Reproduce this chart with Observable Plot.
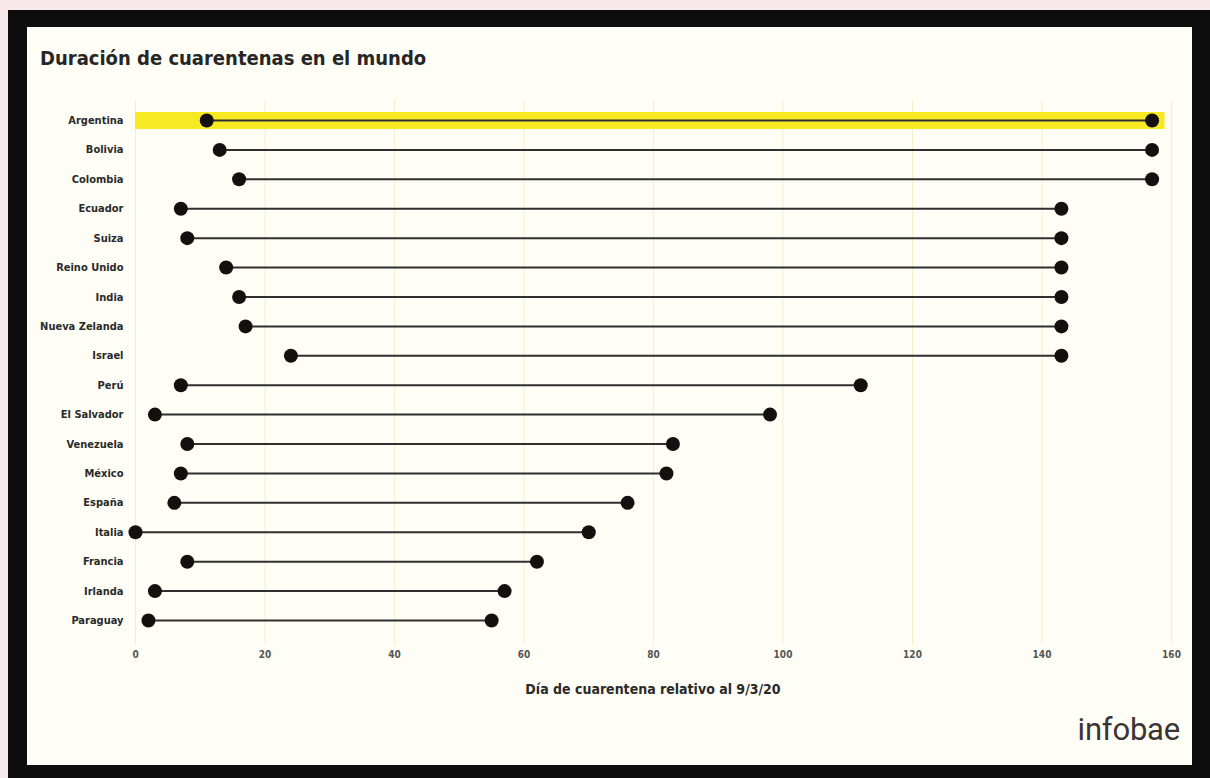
<!DOCTYPE html>
<html>
<head>
<meta charset="utf-8">
<script src="https://cdn.jsdelivr.net/npm/d3@7"></script>
<script src="https://cdn.jsdelivr.net/npm/@observablehq/plot@0.6"></script>
<style>
  html, body { margin: 0; padding: 0; }
  body { width: 1210px; height: 778px; background: #f7e9e9; position: relative; overflow: hidden; }
  #frame { position: absolute; left: 8px; top: 10px; width: 1202px; height: 768px; background: #0d0d0d; }
  #inner { position: absolute; left: 27px; top: 27px; width: 1165px; height: 738px; background: #fffef6; }
  #title { position: absolute; left: 40px; top: 46px; font-family: "DejaVu Sans Condensed", sans-serif; font-weight: bold; font-size: 20px; color: #262626; }
  #chart { position: absolute; left: 0; top: 90px; }
  #xlabel { position: absolute; left: 135px; width: 1036px; top: 681px; text-align: center; font-family: "DejaVu Sans Condensed", sans-serif; font-weight: bold; font-size: 14px; color: #2a2a2a; }
  #logo { position: absolute; right: 30px; top: 711px; font-family: Roboto, "Open Sans", sans-serif; font-size: 31px; color: #3a3434; letter-spacing: -0.2px; }
</style>
</head>
<body>
<div id="frame"></div>
<div id="inner"></div>
<div id="title">Duración de cuarentenas en el mundo</div>
<div id="chart"></div>
<div id="xlabel">Día de cuarentena relativo al 9/3/20</div>
<div id="logo">infobae</div>
<script>
const countries = ["Argentina","Bolivia","Colombia","Ecuador","Suiza","Reino Unido","India","Nueva Zelanda","Israel","Perú","El Salvador","Venezuela","México","España","Italia","Francia","Irlanda","Paraguay"];
const startDay = [11,13,16,7,8,14,16,17,24,7,3,8,7,6,0,8,3,2];
const endDay   = [157,157,157,143,143,143,143,143,143,112,98,83,82,76,70,62,57,55];
const xTicks = [0,20,40,60,80,100,120,140,160];
const highlightCountry = ["Argentina"];
const highlightFrom = [0];
const highlightTo = [159];

const data = countries.map((c, i) => ({country: c, start: startDay[i], end: endDay[i]}));
const highlight = highlightCountry.map((c, i) => ({country: c, from: highlightFrom[i], to: highlightTo[i]}));

const chart = Plot.plot({
  width: 1210,
  height: 620,
  marginLeft: 135,
  marginRight: 39,
  marginTop: 30,
  marginBottom: 90,
  style: {background: "transparent", fontFamily: "'DejaVu Sans Condensed', sans-serif", fontWeight: "bold", color: "#333"},
  x: {domain: [0, 160]},
  y: {domain: countries, type: "point", padding: 0, round: false},
  marks: [
    Plot.ruleX(xTicks, {stroke: "#f5efc8", strokeWidth: 1, insetTop: -20, insetBottom: -25}),
    Plot.ruleY(highlight, {y: "country", x1: "from", x2: "to", stroke: "#f8ea22", strokeWidth: 17}),
    Plot.ruleY(data, {y: "country", x1: "start", x2: "end", stroke: "#2f2f2f", strokeWidth: 2}),
    Plot.dot(data, {x: "start", y: "country", r: 7, fill: "#141010"}),
    Plot.dot(data, {x: "end", y: "country", r: 7, fill: "#141010"}),
    Plot.axisX(xTicks, {tickSize: 0, tickPadding: 30, fontSize: 10, label: null, fill: "#555"}),
    Plot.axisY({tickSize: 0, tickPadding: 12, fontSize: 11, label: null, fill: "#2a2a2a"})
  ]
});
document.getElementById("chart").appendChild(chart);
</script>
</body>
</html>
